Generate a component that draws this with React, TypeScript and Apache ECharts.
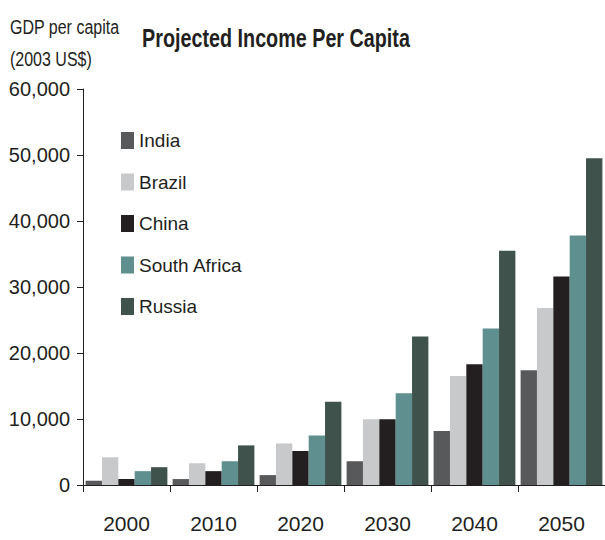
import React, { useEffect, useRef } from "react";
import * as echarts from "echarts";

const categories = ["2000", "2010", "2020", "2030", "2040", "2050"];
const seriesNames = ["India", "Brazil", "China", "South Africa", "Russia"];
const india = [650, 900, 1500, 3600, 8200, 17400];
const brazil = [4200, 3300, 6300, 9950, 16500, 26800];
const china = [900, 2100, 5150, 9950, 18300, 31600];
const southAfrica = [2100, 3600, 7500, 13900, 23700, 37800];
const russia = [2700, 6000, 12600, 22500, 35500, 49500];
const seriesValues = [india, brazil, china, southAfrica, russia];
const colors = ["#58595b", "#c8c9cb", "#231f20", "#5f8f8e", "#3f524b"];

const FONT = "'Liberation Sans', Arial, Helvetica, sans-serif";

export default function App() {
  const ref = useRef<HTMLDivElement>(null);
  useEffect(() => {
    if (!ref.current) return;
    const chart = echarts.init(ref.current, null, { renderer: "svg" });
    chart.setOption({
      animation: false,
      backgroundColor: "#ffffff",
      color: colors,
      textStyle: { fontFamily: FONT, color: "#231f20" },
      graphic: [
        {
          type: "text",
          x: 276,
          y: 38,
          scaleX: 0.76,
          style: {
            text: "Projected Income Per Capita",
            font: `bold 26px ${FONT}`,
            fill: "#231f20",
            textAlign: "center",
            textVerticalAlign: "middle",
          },
        },
        {
          type: "text",
          x: 10,
          y: 27,
          scaleX: 0.8,
          style: {
            text: "GDP per capita",
            font: `20px ${FONT}`,
            fill: "#231f20",
            textAlign: "left",
            textVerticalAlign: "middle",
          },
        },
        {
          type: "text",
          x: 10,
          y: 59,
          scaleX: 0.8,
          style: {
            text: "(2003 US$)",
            font: `20px ${FONT}`,
            fill: "#231f20",
            textAlign: "left",
            textVerticalAlign: "middle",
          },
        },
      ],
      legend: {
        orient: "vertical",
        left: 121,
        top: 131,
        padding: 0,
        itemWidth: 13,
        itemHeight: 17,
        itemGap: 22.5,
        icon: "rect",
        data: seriesNames,
        textStyle: { fontFamily: FONT, fontSize: 19, color: "#231f20" },
      },
      grid: { left: 83, right: 0, top: 89, bottom: 55, containLabel: false },
      xAxis: {
        type: "category",
        data: categories,
        boundaryGap: true,
        axisLine: { lineStyle: { color: "#231f20", width: 1 } },
        axisTick: { show: true, length: 7, alignWithLabel: false, lineStyle: { color: "#231f20" } },
        axisLabel: { fontFamily: FONT, fontSize: 21, color: "#231f20", margin: 28 },
      },
      yAxis: {
        type: "value",
        min: 0,
        max: 60000,
        interval: 10000,
        splitLine: { show: false },
        axisLine: { show: true, lineStyle: { color: "#231f20", width: 1 } },
        axisTick: { show: true, length: 6, lineStyle: { color: "#231f20" } },
        axisLabel: {
          fontFamily: FONT,
          fontSize: 20,
          color: "#231f20",
          margin: 13,
          formatter: (v: number) => v.toLocaleString("en-US"),
        },
      },
      series: seriesNames.map((name, i) => ({
        name,
        type: "bar",
        data: seriesValues[i],
        barGap: "0%",
        barCategoryGap: "6%",
        itemStyle: { color: colors[i] },
      })),
    });
    return () => chart.dispose();
  }, []);
  return (
    <div
      ref={ref}
      style={{ position: "fixed", left: 0, top: 0, width: 605, height: 540 }}
    />
  );
}
